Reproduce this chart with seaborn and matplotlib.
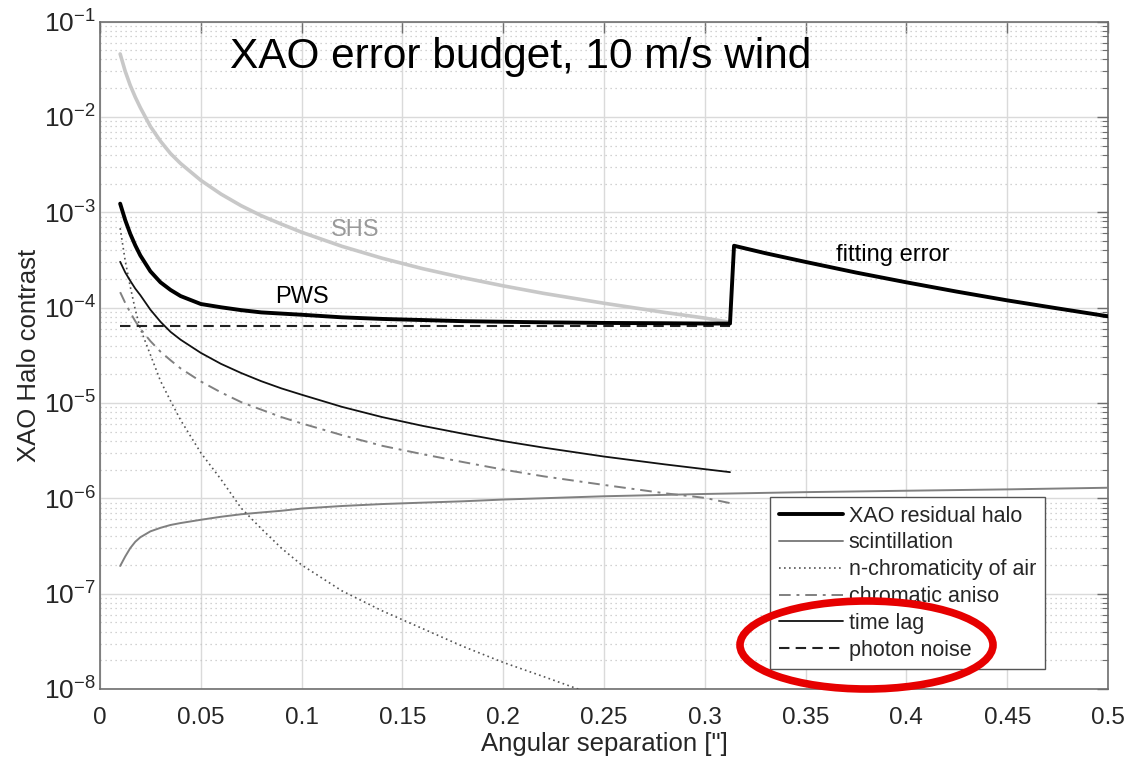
import matplotlib
matplotlib.use("Agg")
import matplotlib.pyplot as plt
from matplotlib.patches import Ellipse
from matplotlib.ticker import LogLocator, NullLocator, FixedLocator
import seaborn as sns
import numpy as np

# ---------------- data ----------------
sep = [0.010, 0.0125, 0.015, 0.0175, 0.020, 0.025, 0.030, 0.035, 0.040, 0.050,
       0.060, 0.070, 0.080, 0.090, 0.100, 0.120, 0.140, 0.160, 0.180, 0.200,
       0.220, 0.250, 0.280, 0.300, 0.3125]

shs = [4.57e-2, 3.01e-2, 2.14e-2, 1.61e-2, 1.25e-2, 7.94e-3, 5.56e-3, 4.12e-3, 3.24e-3, 2.16e-3,
       1.55e-3, 1.17e-3, 9.2e-4, 7.5e-4, 6.17e-4, 4.39e-4, 3.29e-4, 2.56e-4, 2.06e-4, 1.69e-4,
       1.41e-4, 1.11e-4, 8.9e-5, 7.76e-5, 7.0e-5]

pws = [1.23e-3, 8.28e-4, 5.94e-4, 4.49e-4, 3.52e-4, 2.40e-4, 1.84e-4, 1.53e-4, 1.32e-4, 1.09e-4,
       1.007e-4, 9.4e-5, 8.9e-5, 8.65e-5, 8.41e-5, 7.9e-5, 7.6e-5, 7.4e-5, 7.2e-5, 7.1e-5,
       7.0e-5, 6.9e-5, 6.85e-5, 6.8e-5, 6.8e-5]

fit_sep = [0.3145, 0.330, 0.350, 0.375, 0.400, 0.425, 0.450, 0.475, 0.500]
fit_err = [4.45e-4, 3.72e-4, 3.01e-4, 2.33e-4, 1.84e-4, 1.47e-4, 1.19e-4, 9.8e-5, 8.1e-5]

time_lag = [3.02e-4, 2.34e-4, 1.91e-4, 1.58e-4, 1.35e-4, 9.5e-5, 7.1e-5, 5.56e-5, 4.6e-5, 3.35e-5,
            2.57e-5, 2.06e-5, 1.69e-5, 1.42e-5, 1.22e-5, 9.1e-6, 7.1e-6, 5.75e-6, 4.76e-6, 3.98e-6,
            3.4e-6, 2.74e-6, 2.27e-6, 2.02e-6, 1.88e-6]

chrom_aniso = [1.45e-4, 1.12e-4, 8.9e-5, 7.2e-5, 6.0e-5, 4.45e-5, 3.45e-5, 2.8e-5, 2.3e-5, 1.68e-5,
               1.29e-5, 1.02e-5, 8.5e-6, 7.1e-6, 6.1e-6, 4.6e-6, 3.55e-6, 2.9e-6, 2.4e-6, 2.0e-6,
               1.7e-6, 1.38e-6, 1.13e-6, 1.01e-6, 8.9e-7]

nchrom_sep = [0.010, 0.0125, 0.015, 0.0175, 0.020, 0.025, 0.030, 0.035, 0.040, 0.050,
              0.060, 0.070, 0.080, 0.090, 0.100, 0.120, 0.140, 0.160, 0.180, 0.200,
              0.220, 0.240, 0.250]
nchrom = [6.8e-4, 3.1e-4, 1.66e-4, 9.5e-5, 6.0e-5, 3.2e-5, 1.7e-5, 1.05e-5, 6.6e-6, 3.0e-6,
          1.58e-6, 7.9e-7, 4.8e-7, 3.0e-7, 2.0e-7, 1.07e-7, 6.6e-8, 4.3e-8, 2.8e-8, 1.9e-8,
          1.35e-8, 9.5e-9, 8.0e-9]

scint_sep = [0.010, 0.0125, 0.015, 0.0175, 0.020, 0.025, 0.030, 0.035, 0.040, 0.050,
             0.060, 0.070, 0.080, 0.090, 0.100, 0.120, 0.140, 0.160, 0.180, 0.200,
             0.250, 0.300, 0.350, 0.400, 0.450, 0.500]
scint = [1.95e-7, 2.45e-7, 3.0e-7, 3.5e-7, 3.9e-7, 4.5e-7, 4.9e-7, 5.25e-7, 5.5e-7, 5.95e-7,
         6.4e-7, 6.8e-7, 7.1e-7, 7.4e-7, 7.8e-7, 8.3e-7, 8.7e-7, 9.0e-7, 9.3e-7, 9.7e-7,
         1.05e-6, 1.11e-6, 1.16e-6, 1.2e-6, 1.24e-6, 1.29e-6]

photon_sep = [0.010, 0.3125]
photon = [6.4e-5, 6.4e-5]

legend_labels = ["XAO residual halo", "scintillation", "n-chromaticity of air",
                 "chromatic aniso", "time lag", "photon noise"]
x_ticks = [0, 0.05, 0.1, 0.15, 0.2, 0.25, 0.3, 0.35, 0.4, 0.45, 0.5]
x_ticklabels = ["0", "0.05", "0.1", "0.15", "0.2", "0.25", "0.3", "0.35", "0.4", "0.45", "0.5"]

# ---------------- style ----------------
sns.set_style("white")
plt.rcParams['font.family'] = ['Liberation Sans', 'DejaVu Sans']
plt.rcParams['mathtext.fontset'] = 'custom'
plt.rcParams['mathtext.rm'] = 'Liberation Sans'
plt.rcParams['mathtext.it'] = 'Liberation Sans'
plt.rcParams['mathtext.default'] = 'regular'

fig = plt.figure(figsize=(11.28, 7.59), dpi=100)
ax = fig.add_axes([100/1128, 1-689/759, 1008/1128, 667.5/759])

# residual halo = PWS branch + fitting error branch
resid_x = sep + fit_sep
resid_y = pws + fit_err

sns.lineplot(x=sep, y=shs, ax=ax, color="#c8c8c8", lw=2.6, sort=False, zorder=3)
sns.lineplot(x=resid_x, y=resid_y, ax=ax, color="black", lw=2.8, sort=False,
             label=legend_labels[0], zorder=5)
sns.lineplot(x=scint_sep, y=scint, ax=ax, color="#808080", lw=1.4, sort=False,
             label=legend_labels[1], zorder=4)
sns.lineplot(x=nchrom_sep, y=nchrom, ax=ax, color="#555555", lw=1.2, sort=False,
             linestyle=(0, (1, 2)), label=legend_labels[2], zorder=4)
sns.lineplot(x=sep, y=chrom_aniso, ax=ax, color="#808080", lw=1.4, sort=False,
             linestyle=(0, (6, 3, 1.5, 3)), label=legend_labels[3], zorder=4)
sns.lineplot(x=sep, y=time_lag, ax=ax, color="#111111", lw=1.3, sort=False,
             label=legend_labels[4], zorder=4)
sns.lineplot(x=photon_sep, y=photon, ax=ax, color="#222222", lw=1.5, sort=False,
             linestyle=(0, (5, 3)), label=legend_labels[5], zorder=4)

ax.set_yscale("log")
ax.set_xlim(0, 0.5)
ax.set_ylim(1e-8, 1e-1)
ax.xaxis.set_major_locator(FixedLocator(x_ticks))
ax.set_xticklabels(x_ticklabels)
ax.xaxis.set_minor_locator(NullLocator())
ax.yaxis.set_major_locator(LogLocator(base=10, numticks=20))
ax.yaxis.set_minor_locator(LogLocator(base=10, subs=np.arange(2, 10), numticks=20))

ax.grid(which="major", axis="both", color="#dadada", lw=1.0, zorder=0)
ax.grid(which="minor", axis="y", color="#c4c4c4", lw=0.9, linestyle=(0, (1, 3)), zorder=0)
ax.set_axisbelow(True)

for s in ax.spines.values():
    s.set_color("#6e6e6e")
    s.set_linewidth(1.2)
    s.set_visible(True)

ax.tick_params(which="both", direction="in", top=True, right=True,
               colors="#6e6e6e", labelcolor="#262626")
ax.tick_params(which="major", length=8, width=1.0)
ax.tick_params(which="minor", length=4, width=0.8)
ax.tick_params(axis="x", which="major", labelsize=17.5, pad=13)
ax.tick_params(axis="y", which="major", labelsize=19, pad=3)

ax.set_xlabel('Angular separation ["]', fontsize=18.5, color="#262626", labelpad=2)
ax.set_ylabel("XAO Halo contrast", fontsize=18.5, color="#262626", labelpad=2)

ax.text(0.0645, 4.25e-2, "XAO error budget, 10 m/s wind", fontsize=30.5,
        color="black", ha="left", va="center", zorder=6)
ax.text(0.1265, 6.5e-4, "SHS", fontsize=17, color="#999999", ha="center", va="center")
ax.text(0.1002, 1.3e-4, "PWS", fontsize=17, color="black", ha="center", va="center")
ax.text(0.3934, 3.55e-4, "fitting error", fontsize=17, color="black", ha="center", va="center")

leg = ax.legend(loc="upper left", bbox_to_anchor=(0.6647, 0.2876), borderaxespad=0,
                fontsize=15.5, handlelength=3.0, handletextpad=0.25, labelspacing=0.27,
                borderpad=0.4, fancybox=False, framealpha=1, edgecolor="#555555")
leg.get_frame().set_linewidth(1.0)
leg.set_zorder(10)

ell = Ellipse((866.5/1128, 1-645/759), 253/1128, 88/759, transform=fig.transFigure,
              fill=False, edgecolor="#e60000", lw=5.5, zorder=20)
fig.add_artist(ell)

fig.savefig("out.png", dpi=100)
